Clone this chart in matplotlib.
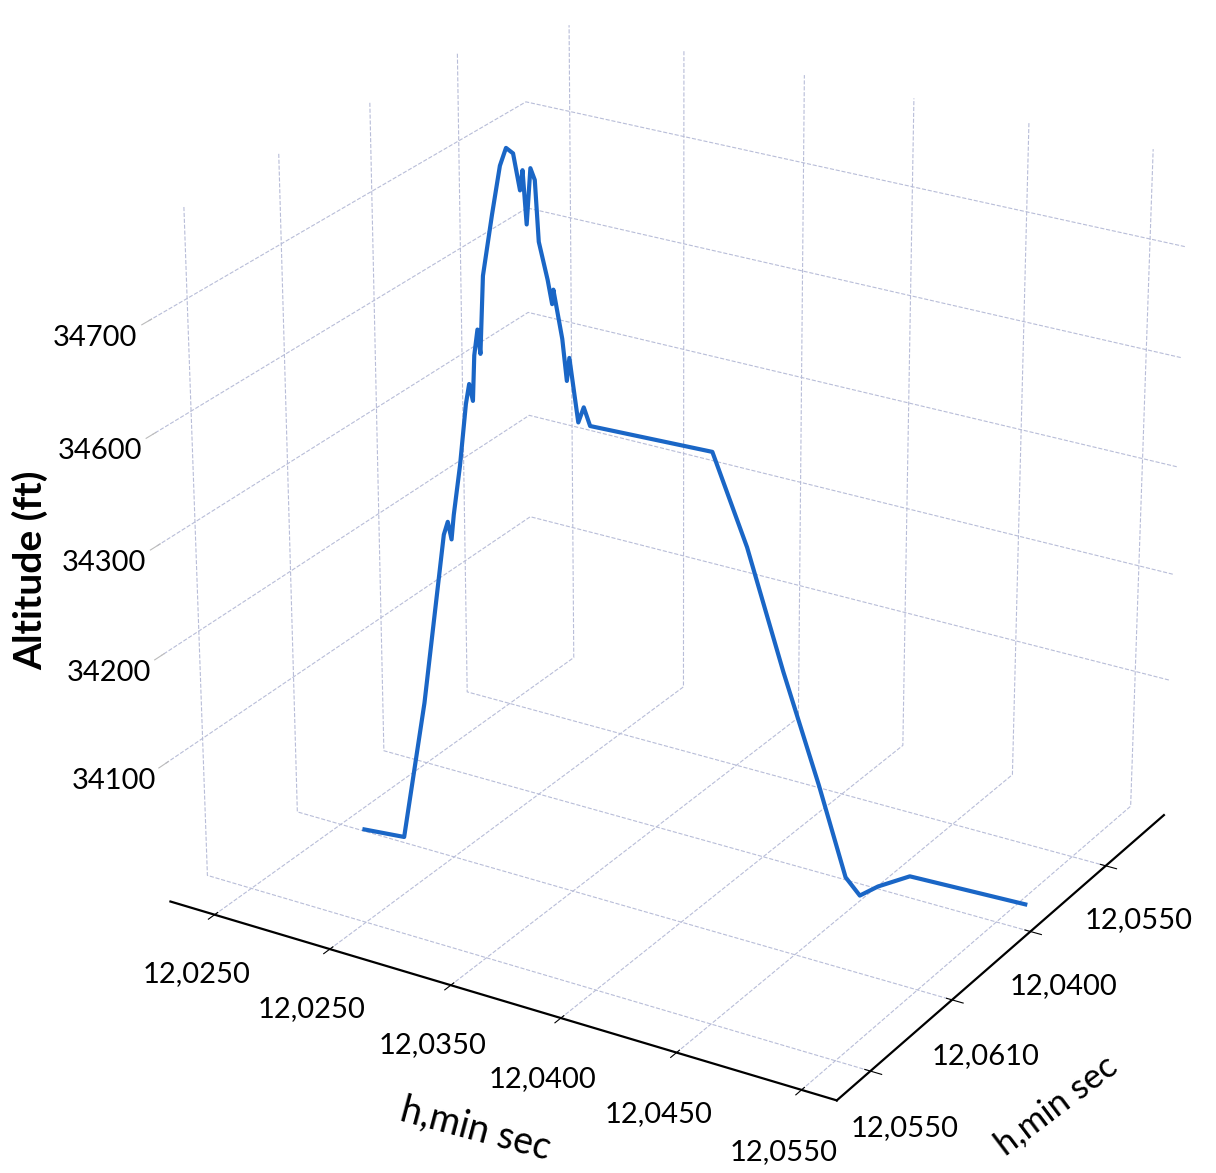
import matplotlib
matplotlib.use("Agg")
import matplotlib.pyplot as plt

plt.rcParams['font.family'] = ['Lato', 'DejaVu Sans']

# flight track
time_pos = [15.5, 20.5, 23.4, 26.3, 26.8, 27.2, 27.6, 28.4, 29.3, 29.7, 30.1, 30.4,
            30.8, 31.2, 31.6, 32.8, 33.8, 34.6, 35.5, 36.2, 36.6, 37.0, 37.5, 38.0,
            38.5, 39.5, 40.0, 40.2, 41.2, 41.7, 42.1, 43.1, 43.8, 44.6, 59.5, 63.8,
            68.3, 72.9, 76.3, 78.1, 80.3, 84.3, 98.6]
depth_pos = [0.67, 0.76, 0.81, 0.85, 0.86, 0.87, 0.87, 0.89, 0.90, 0.91, 0.92, 0.92,
             0.93, 0.93, 0.94, 0.96, 0.98, 0.99, 1.00, 1.02, 1.02, 1.03, 1.04, 1.05,
             1.05, 1.07, 1.08, 1.08, 1.10, 1.11, 1.11, 1.13, 1.14, 1.15, 1.40, 1.47,
             1.55, 1.62, 1.68, 1.71, 1.75, 1.81, 2.05]
altitude = [34000, 33996, 34125, 34283, 34295, 34279, 34302, 34347, 34403, 34421,
            34406, 34447, 34470, 34449, 34518, 34572, 34615, 34631, 34627, 34595,
            34613, 34566, 34615, 34605, 34552, 34519, 34498, 34511, 34468, 34431,
            34452, 34395, 34409, 34393, 34379, 34296, 34185, 34083, 33999, 33983,
            33993, 34006, 33990]

x_ticks = [7, 25, 43.5, 60, 77, 95]
x_labels = ['12,0250', '12,0250', '12,0350', '12,0400', '12,0450', '12,0550']
y_ticks = [0, 1, 2, 3]
y_labels = ['12,0550', '12,0610', '12,0400', '12,0550']
z_ticks = [34100, 34200, 34300, 34400, 34500]
z_labels = ['34100', '34200', '34300', '34600', '34700']

fig = plt.figure(figsize=(12.16, 11.73), dpi=100)
ax = fig.add_axes([0.041, 0.032, 1, 1], projection='3d')
ax.view_init(elev=25, azim=-59)
ax.set_box_aspect((1.13, 1, 1.07), zoom=1.05)

ax.plot(time_pos, depth_pos, altitude, color='#1a66c6', lw=3.0)

ax.set_xlim(0, 100)
ax.set_ylim(-0.4, 3.8)
ax.set_zlim(33970, 34580)

ax.set_xticks(x_ticks)
ax.set_xticklabels(x_labels, fontsize=21)
ax.set_yticks(y_ticks)
ax.set_yticklabels(y_labels, fontsize=21)
ax.set_zticks(z_ticks)
ax.set_zticklabels(z_labels, fontsize=21)
ax.zaxis.set_ticks_position('lower')

# axis titles placed by hand, as in the picture
fig.text(0.391, 0.037, 'h,min sec', fontsize=27, rotation=-15,
         rotation_mode='anchor', ha='center', va='center')
fig.text(0.869, 0.058, 'h,min sec', fontsize=25, rotation=37,
         rotation_mode='anchor', ha='center', va='center')
fig.text(0.025, 0.514, 'Altitude (ft)', fontsize=28, fontweight='bold',
         rotation=90, ha='center', va='center')

for axis in (ax.xaxis, ax.yaxis, ax.zaxis):
    axis.set_pane_color((1, 1, 1, 0))
    axis.pane.set_edgecolor((1, 1, 1, 0))
    axis._axinfo['grid'].update(color='#b8bdd8', linestyle='--', linewidth=0.8)
ax.xaxis.line.set_color('black')
ax.yaxis.line.set_color('black')
ax.xaxis.line.set_linewidth(1.6)
ax.yaxis.line.set_linewidth(1.6)
ax.zaxis.line.set_color((1, 1, 1, 0))
ax.tick_params(axis='x', pad=14)
ax.tick_params(axis='y', pad=14)
ax.tick_params(axis='z', pad=14, colors='#bbbbbb', labelcolor='black')

fig.savefig('out.png', dpi=100)
